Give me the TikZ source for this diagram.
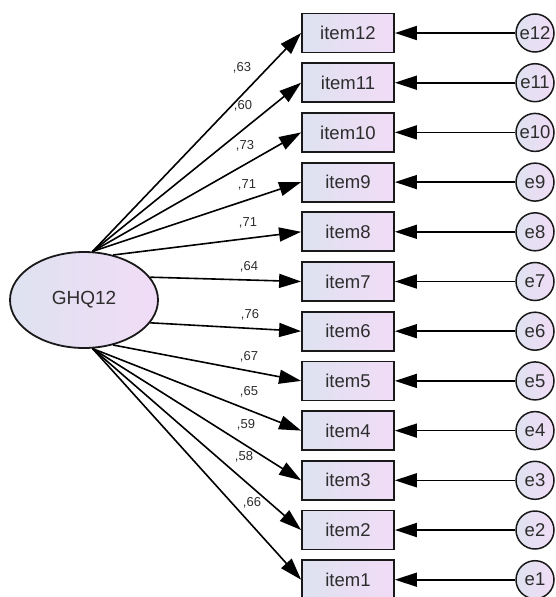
\documentclass[tikz,border=0pt]{standalone}
\usepackage{fontspec}
\setmainfont{Liberation Sans}
\usetikzlibrary{shapes.geometric,arrows.meta}
\definecolor{fillL}{RGB}{222,226,240}
\definecolor{fillR}{RGB}{241,220,246}
\definecolor{txt}{RGB}{45,45,45}
\begin{document}
\begin{tikzpicture}[x=1pt,y=-1pt,
  itembox/.style={draw=black!90, line width=1.8pt, left color=fillL, right color=fillR,
    minimum width=92pt, minimum height=39pt, inner sep=0pt, text=txt,
    font=\fontsize{18.5}{18.5}\selectfont},
  errc/.style={circle, draw=black!90, line width=1.5pt, left color=fillL, right color=fillR,
    minimum size=38pt, inner sep=0pt, text=txt, font=\fontsize{18.5}{18.5}\selectfont},
  latent/.style={ellipse, draw=black!90, line width=1.8pt, left color=fillL, right color=fillR,
    minimum width=148pt, minimum height=96pt, inner sep=0pt, text=txt,
    font=\fontsize{19}{19}\selectfont},
  pth/.style={line width=1.6pt, draw=black, -{Triangle[length=22pt,width=14pt]}},
  lbl/.style={inner sep=0pt, text=txt, font=\fontsize{13}{13}\selectfont}
]
\useasboundingbox (0,0) rectangle (556,597);
\node[latent] (g) at (84,300) {GHQ12};
\foreach \i in {1,...,12} {
  \pgfmathsetmacro\yy{33+(12-\i)*49.7}
  \node[itembox] (item\i) at (348,\yy) {item\i};
  \node[errc] (e\i) at (535,\yy) {e\i};
  \draw[pth] (e\i) -- (item\i);
}
\foreach \i/\a in {12/80,11/80,10/80,9/80,8/57,7/19,6/-19,5/-57,4/-80,3/-80,2/-80,1/-80} {
  \draw[pth] (g.\a) -- (item\i.west);
}
\node[lbl] (l12) at (242,68) {,63};
\node[lbl] (l11) at (243,106) {,60};
\node[lbl] (l10) at (245,146) {,73};
\node[lbl] (l9) at (247,185) {,71};
\node[lbl] (l8) at (248,223) {,71};
\node[lbl] (l7) at (249,267) {,64};
\node[lbl] (l6) at (250,315) {,76};
\node[lbl] (l5) at (249,357) {,67};
\node[lbl] (l4) at (249,392) {,65};
\node[lbl] (l3) at (246,425) {,59};
\node[lbl] (l2) at (244,457) {,58};
\node[lbl] (l1) at (252,503) {,66};
\end{tikzpicture}
\end{document}
